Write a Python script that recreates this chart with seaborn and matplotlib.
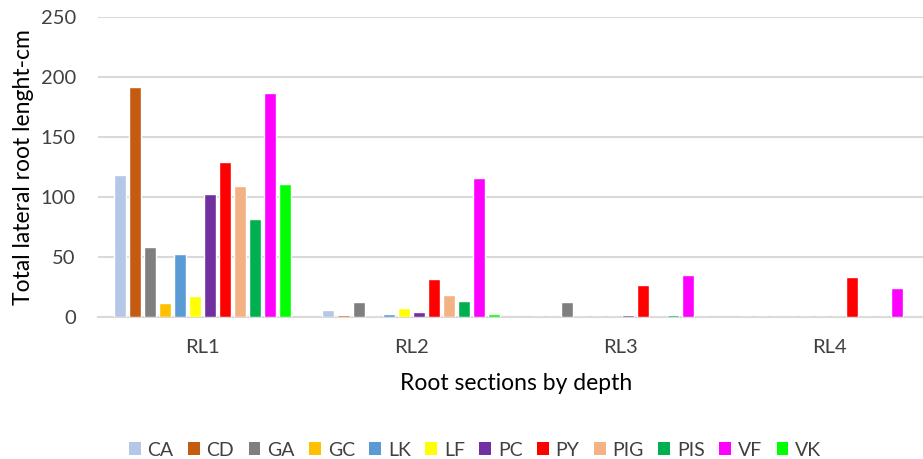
import matplotlib
matplotlib.use("Agg")
import matplotlib.pyplot as plt
from matplotlib.patches import Patch
import seaborn as sns
import pandas as pd

sections = ["RL1", "RL2", "RL3", "RL4"]
genotypes = ["CA", "CD", "GA", "GC", "LK", "LF", "PC", "PY", "PIG", "PIS", "VF", "VK"]
colors = ["#B4C7E7", "#C55A11", "#7F7F7F", "#FFC000", "#5B9BD5", "#FFFF00",
          "#7030A0", "#FF0000", "#F4B183", "#00B050", "#FF00FF", "#00FF00"]

RL1 = [118, 192, 58.5, 11.5, 52.5, 17.5, 102.5, 129.5, 109.5, 82, 187, 110.5]
RL2 = [5.5, 1.8, 12.5, 0, 2.5, 7.5, 4.5, 32, 18.5, 13.5, 116, 2.5]
RL3 = [0, 0, 12.5, 0, 0, 0, 1.5, 27, 0, 1.5, 35, 0]
RL4 = [0, 0, 0, 0, 0, 0, 0, 33, 0, 0, 24, 0]
yticks = [0, 50, 100, 150, 200, 250]

rows = []
for sec, vals in zip(sections, [RL1, RL2, RL3, RL4]):
    for g, v in zip(genotypes, vals):
        rows.append({"section": sec, "genotype": g, "value": v})
df = pd.DataFrame(rows)

sns.set_theme(style="white")
plt.rcParams["font.family"] = ["Lato", "DejaVu Sans"]
text_color = "#404040"

fig = plt.figure(figsize=(9.23, 4.59), dpi=100)
ax = fig.add_axes([98/923, 142/459, 835.5/923, 300/459])

sns.barplot(data=df, x="section", y="value", hue="genotype", order=sections,
            hue_order=genotypes, palette=colors, saturation=1, width=0.866, gap=0.2,
            errorbar=None, legend=False, ax=ax, zorder=3)

ax.set_xlim(-0.5, 3.5)
ax.set_ylim(0, 250)
ax.set_yticks(yticks)
ax.yaxis.grid(True, color="#D9D9D9", linewidth=1.5, zorder=0)
ax.set_axisbelow(True)
for s in ["top", "right", "left"]:
    ax.spines[s].set_visible(False)
ax.spines["bottom"].set_color("#D9D9D9")
ax.spines["bottom"].set_linewidth(1.5)
ax.tick_params(axis="both", length=0, labelsize=14.5, labelcolor=text_color)
ax.tick_params(axis="y", pad=16)
ax.tick_params(axis="x", pad=16)
ax.set_ylabel("Total lateral root lenght-cm", fontsize=16.5, color="black", labelpad=5)
ax.set_xlabel("Root sections by depth", fontsize=16.5, color="black", labelpad=12)

handles = [Patch(facecolor=c, edgecolor="none", label=g) for g, c in zip(genotypes, colors)]
fig.legend(handles=handles, loc="center", bbox_to_anchor=(475/923, 1 - 450/459),
           ncol=12, frameon=False, fontsize=14, handlelength=0.6, handleheight=0.6,
           handletextpad=0.35, columnspacing=0.75, labelcolor=text_color)

fig.savefig("out.png", dpi=100)
